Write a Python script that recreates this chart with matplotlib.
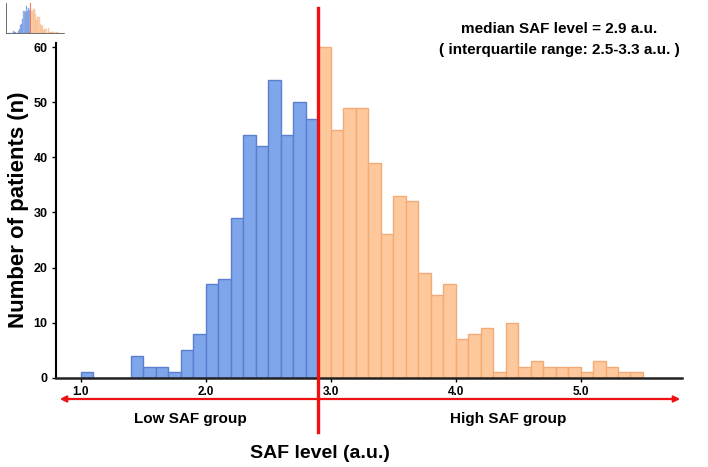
"""Histogram of SAF levels split at the median into low / high groups."""
import numpy as np
import matplotlib
matplotlib.use("Agg")
import matplotlib.pyplot as plt
from matplotlib.patches import FancyArrowPatch

plt.rcParams["font.family"] = ["Liberation Sans", "DejaVu Sans"]

BIN_WIDTH = 0.1
MEDIAN = 2.9

low_edges = [1.0, 1.1, 1.2, 1.3, 1.4, 1.5, 1.6, 1.7, 1.8, 1.9,
             2.0, 2.1, 2.2, 2.3, 2.4, 2.5, 2.6, 2.7, 2.8]
low_counts = [1, 0, 0, 0, 4, 2, 2, 1, 5, 8,
              17, 18, 29, 44, 42, 54, 44, 50, 47]

high_edges = [2.9, 3.0, 3.1, 3.2, 3.3, 3.4, 3.5, 3.6, 3.7, 3.8, 3.9,
              4.0, 4.1, 4.2, 4.3, 4.4, 4.5, 4.6, 4.7, 4.8, 4.9,
              5.0, 5.1, 5.2, 5.3, 5.4]
high_counts = [60, 45, 49, 49, 39, 26, 33, 32, 19, 15, 17,
               7, 8, 9, 1, 10, 2, 3, 2, 2, 2,
               1, 3, 2, 1, 1]

x_ticks = [1.0, 2.0, 3.0, 4.0, 5.0]
y_ticks = [0, 10, 20, 30, 40, 50, 60]

BLUE, BLUE_EDGE = "#7fa6ea", "#5a7fd0"
ORANGE, ORANGE_EDGE = "#fdc89c", "#f3ab76"
RED = "#ee1111"

W, H = 708, 467
fig = plt.figure(figsize=(W / 100, H / 100), dpi=100)


def px(x, y):
    return x / W, 1 - y / H


ax = fig.add_axes([56 / W, 1 - 377.7 / H, (681.7 - 56) / W, (377.7 - 42.7) / H])


def draw_hist(a, lw=1.0):
    a.bar(low_edges, low_counts, width=BIN_WIDTH, align="edge",
          color=BLUE, edgecolor=BLUE_EDGE, linewidth=lw, zorder=2)
    a.bar(high_edges, high_counts, width=BIN_WIDTH, align="edge",
          color=ORANGE, edgecolor=ORANGE_EDGE, linewidth=lw, zorder=2)
    a.set_xlim(0.8, 5.81)
    a.set_ylim(0, 60.8)


draw_hist(ax)
for s in ["top", "right"]:
    ax.spines[s].set_visible(False)
ax.spines["left"].set_linewidth(1.5)
ax.spines["bottom"].set_linewidth(1.8)
ax.spines["bottom"].set_color("#222222")
ax.set_xticks(x_ticks)
ax.set_xticklabels([f"{t:.1f}" for t in x_ticks], fontsize=8.5, fontweight="bold")
ax.set_yticks(y_ticks)
ax.set_yticklabels([str(t) for t in y_ticks], fontsize=9, fontweight="bold")
ax.tick_params(axis="x", length=3, width=1, pad=3)
ax.tick_params(axis="y", length=3, width=1, pad=3)

fig.text(*px(19, 210), "Number of patients (n)", rotation=90, ha="center",
         va="center", fontsize=16, fontweight="bold")

# median line across the whole figure
x_med = ax.transData.transform((MEDIAN, 0))[0]
fig.add_artist(plt.Line2D([x_med / W, x_med / W], [1 - 8 / H, 1 - 432 / H],
                          color=RED, lw=2.4, transform=fig.transFigure, zorder=5))

# double-headed group arrow
arr = FancyArrowPatch(px(57, 399), px(683, 399), transform=fig.transFigure,
                      arrowstyle="<|-|>", mutation_scale=9, color=RED, lw=1.6)
fig.add_artist(arr)

fig.text(*px(190, 419), "Low SAF group", ha="center", va="center",
         fontsize=11, fontweight="bold")
fig.text(*px(508, 419), "High SAF group", ha="center", va="center",
         fontsize=11, fontweight="bold")
fig.text(*px(320, 454), "SAF level (a.u.)", ha="center", va="center",
         fontsize=14, fontweight="bold")
fig.text(*px(559, 29), "median SAF level = 2.9 a.u.", ha="center", va="center",
         fontsize=11, fontweight="bold")
fig.text(*px(559, 50), "( interquartile range: 2.5-3.3 a.u. )", ha="center",
         va="center", fontsize=11, fontweight="bold")

# faint thumbnail copy in the top-left corner
thumb = fig.add_axes([6 / W, 1 - 33 / H, 58 / W, 30 / H])
draw_hist(thumb, lw=0.2)
thumb.axvline(MEDIAN, color=RED, lw=0.6, alpha=0.5)
for s in ["top", "right"]:
    thumb.spines[s].set_visible(False)
for s in ["left", "bottom"]:
    thumb.spines[s].set_linewidth(0.4)
thumb.set_xticks([])
thumb.set_yticks([])
for p in thumb.patches:
    p.set_alpha(0.8)

fig.savefig("out.png", dpi=100)
